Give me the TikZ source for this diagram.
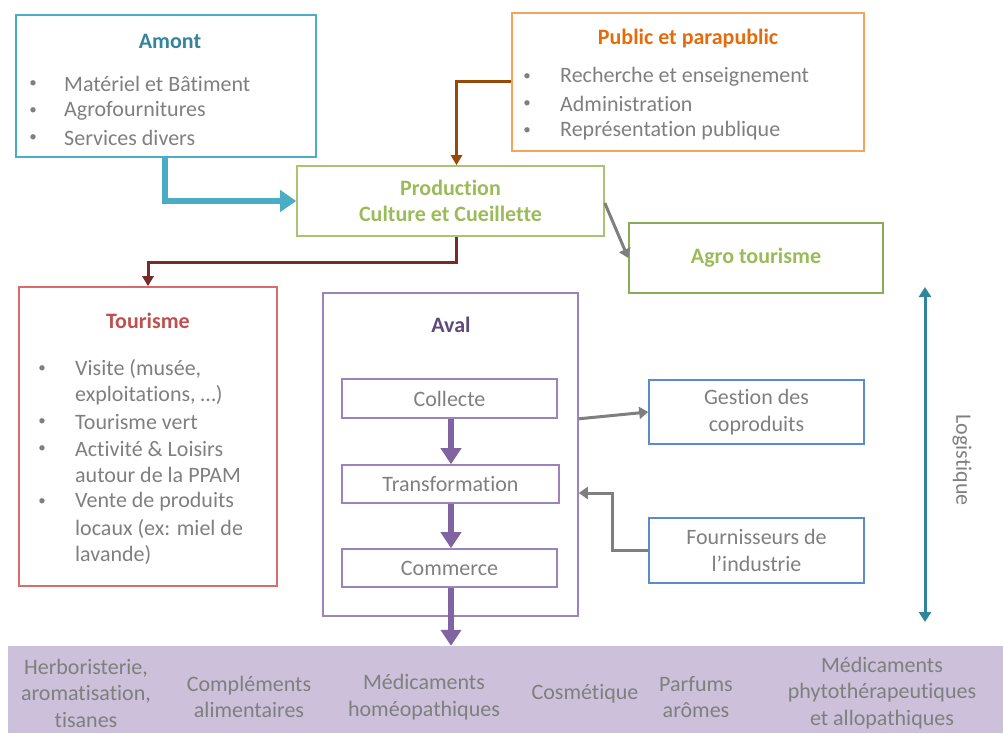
\documentclass[tikz,border=0pt]{standalone}
\usepackage{fontspec}
\setmainfont[Ligatures={NoCommon}]{Carlito}
\usetikzlibrary{arrows.meta,calc}
\definecolor{cyanB}{HTML}{4BACC6}
\definecolor{cyanT}{HTML}{31859C}
\definecolor{orangeB}{HTML}{F5A55A}
\definecolor{orangeT}{HTML}{E46C0A}
\definecolor{brownA}{HTML}{984807}
\definecolor{greenB}{HTML}{A9C574}
\definecolor{greenD}{HTML}{8AAA55}
\definecolor{greenT}{HTML}{9BBB59}
\definecolor{redB}{HTML}{DB6A6A}
\definecolor{redT}{HTML}{C0504D}
\definecolor{redA}{HTML}{772C2A}
\definecolor{purpB}{HTML}{9C83BC}
\definecolor{purpT}{HTML}{5F497A}
\definecolor{purpA}{HTML}{8064A2}
\definecolor{blueB}{HTML}{5B8BC9}
\definecolor{grayT}{HTML}{7F7F7F}
\definecolor{band}{HTML}{CCC0DA}
\definecolor{logi}{HTML}{31849B}
\tikzset{
  box/.style={draw, line width=1.6pt, inner sep=0pt},
  txt/.style={text=grayT, font=\fontsize{22}{26.5}\selectfont, inner sep=0pt},
  ttl/.style={font=\fontsize{22}{26.5}\selectfont\bfseries, inner sep=0pt},
  itm/.style={txt, anchor=west},
  bul/.style={text=grayT, font=\fontsize{15}{15}\selectfont, inner sep=0pt},
  garrow/.style={draw=grayT, line width=3pt, -{Triangle[length=9pt,width=12pt]}},
  parrow/.style={draw=purpA, line width=6pt, -{Triangle[length=16pt,width=20pt]}},
}
\begin{document}
\begin{tikzpicture}[x=1pt,y=-1pt]
\useasboundingbox (0,0) rectangle (1003,733);
% bottom band
\node[fill=band, inner sep=0pt, minimum width=995pt, minimum height=87pt] (band) at (505.5,689.5) {};
% boxes
\node[box, draw=cyanB, minimum width=300pt, minimum height=142pt] (amont) at (166,86) {};
\node[box, draw=orangeB, minimum width=352pt, minimum height=138pt] (pub) at (688,82) {};
\node[box, draw=greenB, minimum width=307pt, minimum height=70pt, text=greenT, font=\fontsize{22}{26.5}\selectfont\bfseries, align=center] (prod) at (450.5,201) {Production\\Culture et Cueillette};
\node[box, draw=greenD, minimum width=254pt, minimum height=70pt, text=greenT, font=\fontsize{22}{26.5}\selectfont\bfseries] (agro) at (756,258) {Agro tourisme};
\node[box, draw=redB, minimum width=258pt, minimum height=299pt] (tour) at (148,436.5) {};
\node[box, draw=purpB, minimum width=255pt, minimum height=323pt] (aval) at (450.5,454.5) {};
\node[box, draw=purpB, minimum width=215pt, minimum height=39pt, txt] (coll) at (449.5,398.5) {Collecte};
\node[box, draw=purpB, minimum width=217pt, minimum height=38pt, txt] (trans) at (450.5,484) {Transformation};
\node[box, draw=purpB, minimum width=215pt, minimum height=38pt, txt] (comm) at (449.5,568) {Commerce};
\node[box, draw=blueB, minimum width=215pt, minimum height=64pt, txt, align=center] (gest) at (756.5,412) {Gestion des\\coproduits};
\node[box, draw=blueB, minimum width=215pt, minimum height=65pt, txt, align=center] (four) at (756.5,550.5) {Fournisseurs de\\l’industrie};
% titles
\node[ttl, text=cyanT] (tamont) at (170,41) {Amont};
\node[ttl, text=orangeT] (tpub) at (688,39) {Public et parapublic};
\node[ttl, text=redT] (ttour) at (148,321) {Tourisme};
\node[ttl, text=purpT] (taval) at (451,325) {Aval};
% Amont list
\foreach \y/\t [count=\i] in {84/Matériel et Bâtiment, 111/Agrofournitures, 138/Services divers}{
  \node[bul] (ab\i) at (33,\y) {•};
  \node[itm] (ai\i) at (64,\y) {\t};
}
% Public list
\foreach \y/\t [count=\i] in {77/Recherche et enseignement, 104/Administration, 131/Représentation publique}{
  \node[bul] (pb\i) at (527,\y) {•};
  \node[itm] (pi\i) at (560,\y) {\t};
}
% Tourisme list
\node[bul] (tb1) at (42,369) {•};
\node[bul] (tb2) at (42,422) {•};
\node[bul] (tb3) at (42,449) {•};
\node[bul] (tb4) at (42,502) {•};
\node[itm] (ti1) at (75,369) {Visite (musée,};
\node[itm] (ti1b) at (75,395) {exploitations, …)};
\node[itm] (ti2) at (75,422) {Tourisme vert};
\node[itm] (ti3) at (75,449) {Activité \& Loisirs};
\node[itm] (ti3b) at (75,475) {autour de la PPAM};
\node[itm] (ti4) at (75,502) {Vente de produits};
\node[itm] (ti4b) at (75,529) {locaux (ex: miel de};
\node[itm] (ti4c) at (75,555) {lavande)};
% band texts
\node[txt, align=center] (b1) at (86,693) {Herboristerie,\\aromatisation,\\tisanes};
\node[txt, align=center] (b2) at (249,697) {Compléments\\alimentaires};
\node[txt, align=center] (b3) at (424,697) {Médicaments\\homéopathiques};
\node[txt, align=center] (b4) at (585,694) {Cosmétique};
\node[txt, align=center] (b5) at (696,697) {Parfums\\arômes};
\node[txt, align=center] (b6) at (882,693) {Médicaments\\phytothérapeutiques\\et allopathiques};
% Logistique
\coordinate (lt) at (925,287);
\coordinate (lb) at (925,622);
\draw[draw=logi, line width=3pt, {Triangle[length=10pt,width=12pt]}-{Triangle[length=10pt,width=12pt]}] (lt) -- (lb);
\node[txt, rotate=-90] (logt) at (962,460) {Logistique};
% connectors
\draw[draw=cyanB, line width=6pt, -{Triangle[length=16pt,width=21pt]}] ([xshift=-1pt]amont.south) |- (prod.west);
\draw[draw=brownA, line width=3pt, -{Triangle[length=10pt,width=11pt]}] (pub.west |- 0,82) -| ([xshift=6pt]prod.north);
\draw[draw=redA, line width=3pt, -{Triangle[length=10pt,width=11pt]}] ([xshift=6pt]prod.south) -- ++(0,26) -| (tour.north);
\draw[garrow] ([yshift=-2pt]prod.east) -- (agro.west);
\draw[parrow] ([xshift=1.5pt]coll.south) -- ([xshift=0.5pt]trans.north);
\draw[parrow] ([xshift=0.5pt]trans.south) -- ([xshift=1.5pt]comm.north);
\draw[parrow] ([xshift=1.5pt]comm.south) -- ([xshift=1.5pt]comm.south |- band.north);
\draw[garrow] (aval.east |- coll.south) -- (gest.west);
\draw[garrow] (four.west) -- ++(-36,0) |- ($(aval.east |- trans.center)+(0,9)$);
\end{tikzpicture}
\end{document}
